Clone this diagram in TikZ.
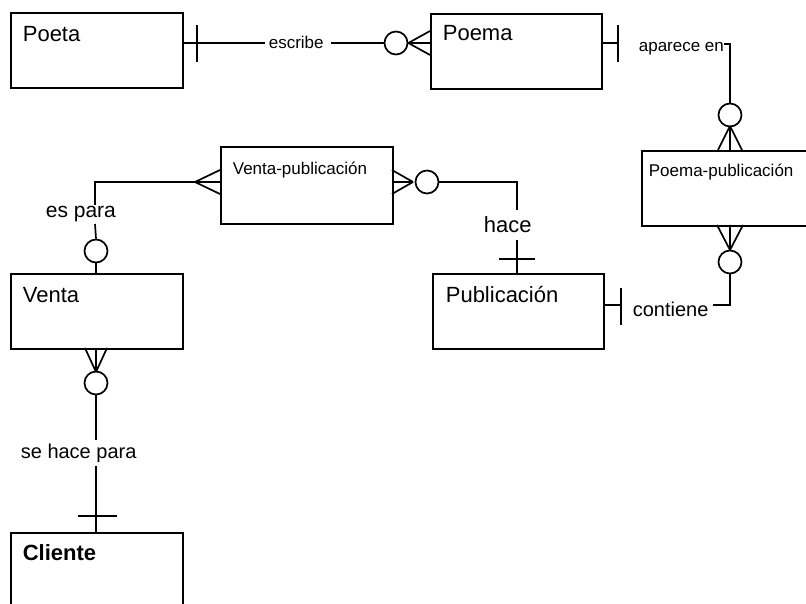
\documentclass[tikz,border=0pt]{standalone}
\usepackage{fontspec}
\setmainfont{Liberation Sans}
\begin{document}
\begin{tikzpicture}[x=1pt,y=-1pt,line width=1.7pt,
  ent/.style={draw,line width=1.7pt,anchor=north west,minimum width=172pt,minimum height=75pt,inner sep=0pt},
  big/.style={font=\fontsize{22}{24}\selectfont,anchor=base west,inner sep=0pt},
  small/.style={font=\fontsize{17}{19}\selectfont,anchor=base west,inner sep=0pt},
  oc/.style={circle,draw,line width=1.7pt,minimum size=23pt,inner sep=0pt}]
\useasboundingbox (0,0) rectangle (806,604);
% entities
\node[ent] (poeta) at (10,12) {};
\node[ent,minimum width=171pt] (poema) at (430,13) {};
\node[ent,minimum height=77pt] (vp) at (220,146) {};
\node[ent,minimum width=180pt] (pp) at (641,150) {};
\node[ent,minimum width=171pt] (pub) at (432,273) {};
\node[ent] (venta) at (10,273) {};
\node[ent,minimum height=100pt] (cliente) at (10,532) {};
% entity names
\node[big] (tpoeta) at (22,42) {Poeta};
\node[big] (tpoema) at (442,41) {Poema};
\node[small] (tvp) at (232,175) {Venta-publicación};
\node[small] (tpp) at (648,177) {Poema-publicación};
\node[big] (tpub) at (445,302) {Publicación};
\node[big] (tventa) at (22,302) {Venta};
\node[big] (tcliente) at (22,560) {\bfseries Cliente};
% relationship labels
\node[small] (lescribe) at (268,49) {escribe};
\node[small] (laparece) at (638,52) {aparece en};
\node[big,font=\fontsize{21}{23}\selectfont] (lespara) at (45,218) {es para};
\node[big] (lhace) at (483,233) {hace};
\node[big,font=\fontsize{20}{22}\selectfont] (lcontiene) at (632,316) {contiene};
\node[big,font=\fontsize{20}{22}\selectfont] (lsehace) at (20,458) {se hace para};
% circles
\node[oc] (c1) at (396,43) {};
\node[oc] (c2) at (730,115) {};
\node[oc] (c3) at (730,262) {};
\node[oc] (c4) at (427,182) {};
\node[oc] (c5) at (96,251) {};
\node[oc] (c6) at (96,383) {};
% coordinates
\coordinate (p1) at (182,43);
\coordinate (p2) at (265,43);
\coordinate (p3) at (331,43);
\coordinate (q1) at (601,43);
\coordinate (q2) at (618,43);
\coordinate (q3) at (724,44);
\coordinate (q4) at (730,44);
\coordinate (r1) at (732,305);
\coordinate (r2) at (713,305);
\coordinate (s1) at (603,305);
\coordinate (s2) at (621,305);
\coordinate (h1) at (517,182);
\coordinate (h2) at (517,210);
\coordinate (h3) at (517,240);
\coordinate (h4) at (517,273);
\coordinate (e0) at (195,182);
\coordinate (e1) at (95,182);
\coordinate (e2) at (95,205);
\coordinate (e3) at (95,224);
\coordinate (v1) at (96,348);
\coordinate (v2) at (96,372);
\coordinate (v3) at (96,440);
\coordinate (v4) at (96,466);
\coordinate (v5) at (96,532);
\coordinate (m4) at (413,182);
\coordinate (m2) at (730,126);
\coordinate (m3) at (730,250);
% Poeta -- Poema
\draw (p1) -- (p2);
\draw (p3) -- (c1.west);
\draw (197,25) -- (197,62);
\draw (c1.east) -- (430,31) (c1.east) -- (430,43) (c1.east) -- (430,55);
% Poema -- Poema-publicacion
\draw (q1) -- (q2);
\draw (618,25) -- (618,62);
\draw (q3) -- (q4) -- (c2.north);
\draw (m2) -- (718,150) (m2) -- (730,150) (m2) -- (742,150);
% Poema-publicacion -- Publicacion
\draw (m3) -- (717,225) (m3) -- (730,225) (m3) -- (743,225);
\draw (c3.south) -- (730,305) -- (r2);
\draw (s1) -- (s2);
\draw (621,288) -- (621,325);
% Venta-publicacion -- Publicacion
\draw (392,170) -- (m4) (392,182) -- (m4) (392,194) -- (m4);
\draw (c4.east) -- (h1) -- (h2);
\draw (h3) -- (h4);
\draw (499,259) -- (535,259);
% Venta-publicacion -- Venta
\draw (220,170) -- (e0) (220,182) -- (e0) (220,194) -- (e0);
\draw (e0) -- (e1) -- (e2);
\draw (e3) -- (c5.north);
\draw (c5.south) -- (96,273);
% Venta -- Cliente
\draw (85,348) -- (v2) (96,348) -- (v2) (107,348) -- (v2);
\draw (c6.south) -- (v3);
\draw (v4) -- (v5);
\draw (78,516) -- (117,516);
\end{tikzpicture}
\end{document}
